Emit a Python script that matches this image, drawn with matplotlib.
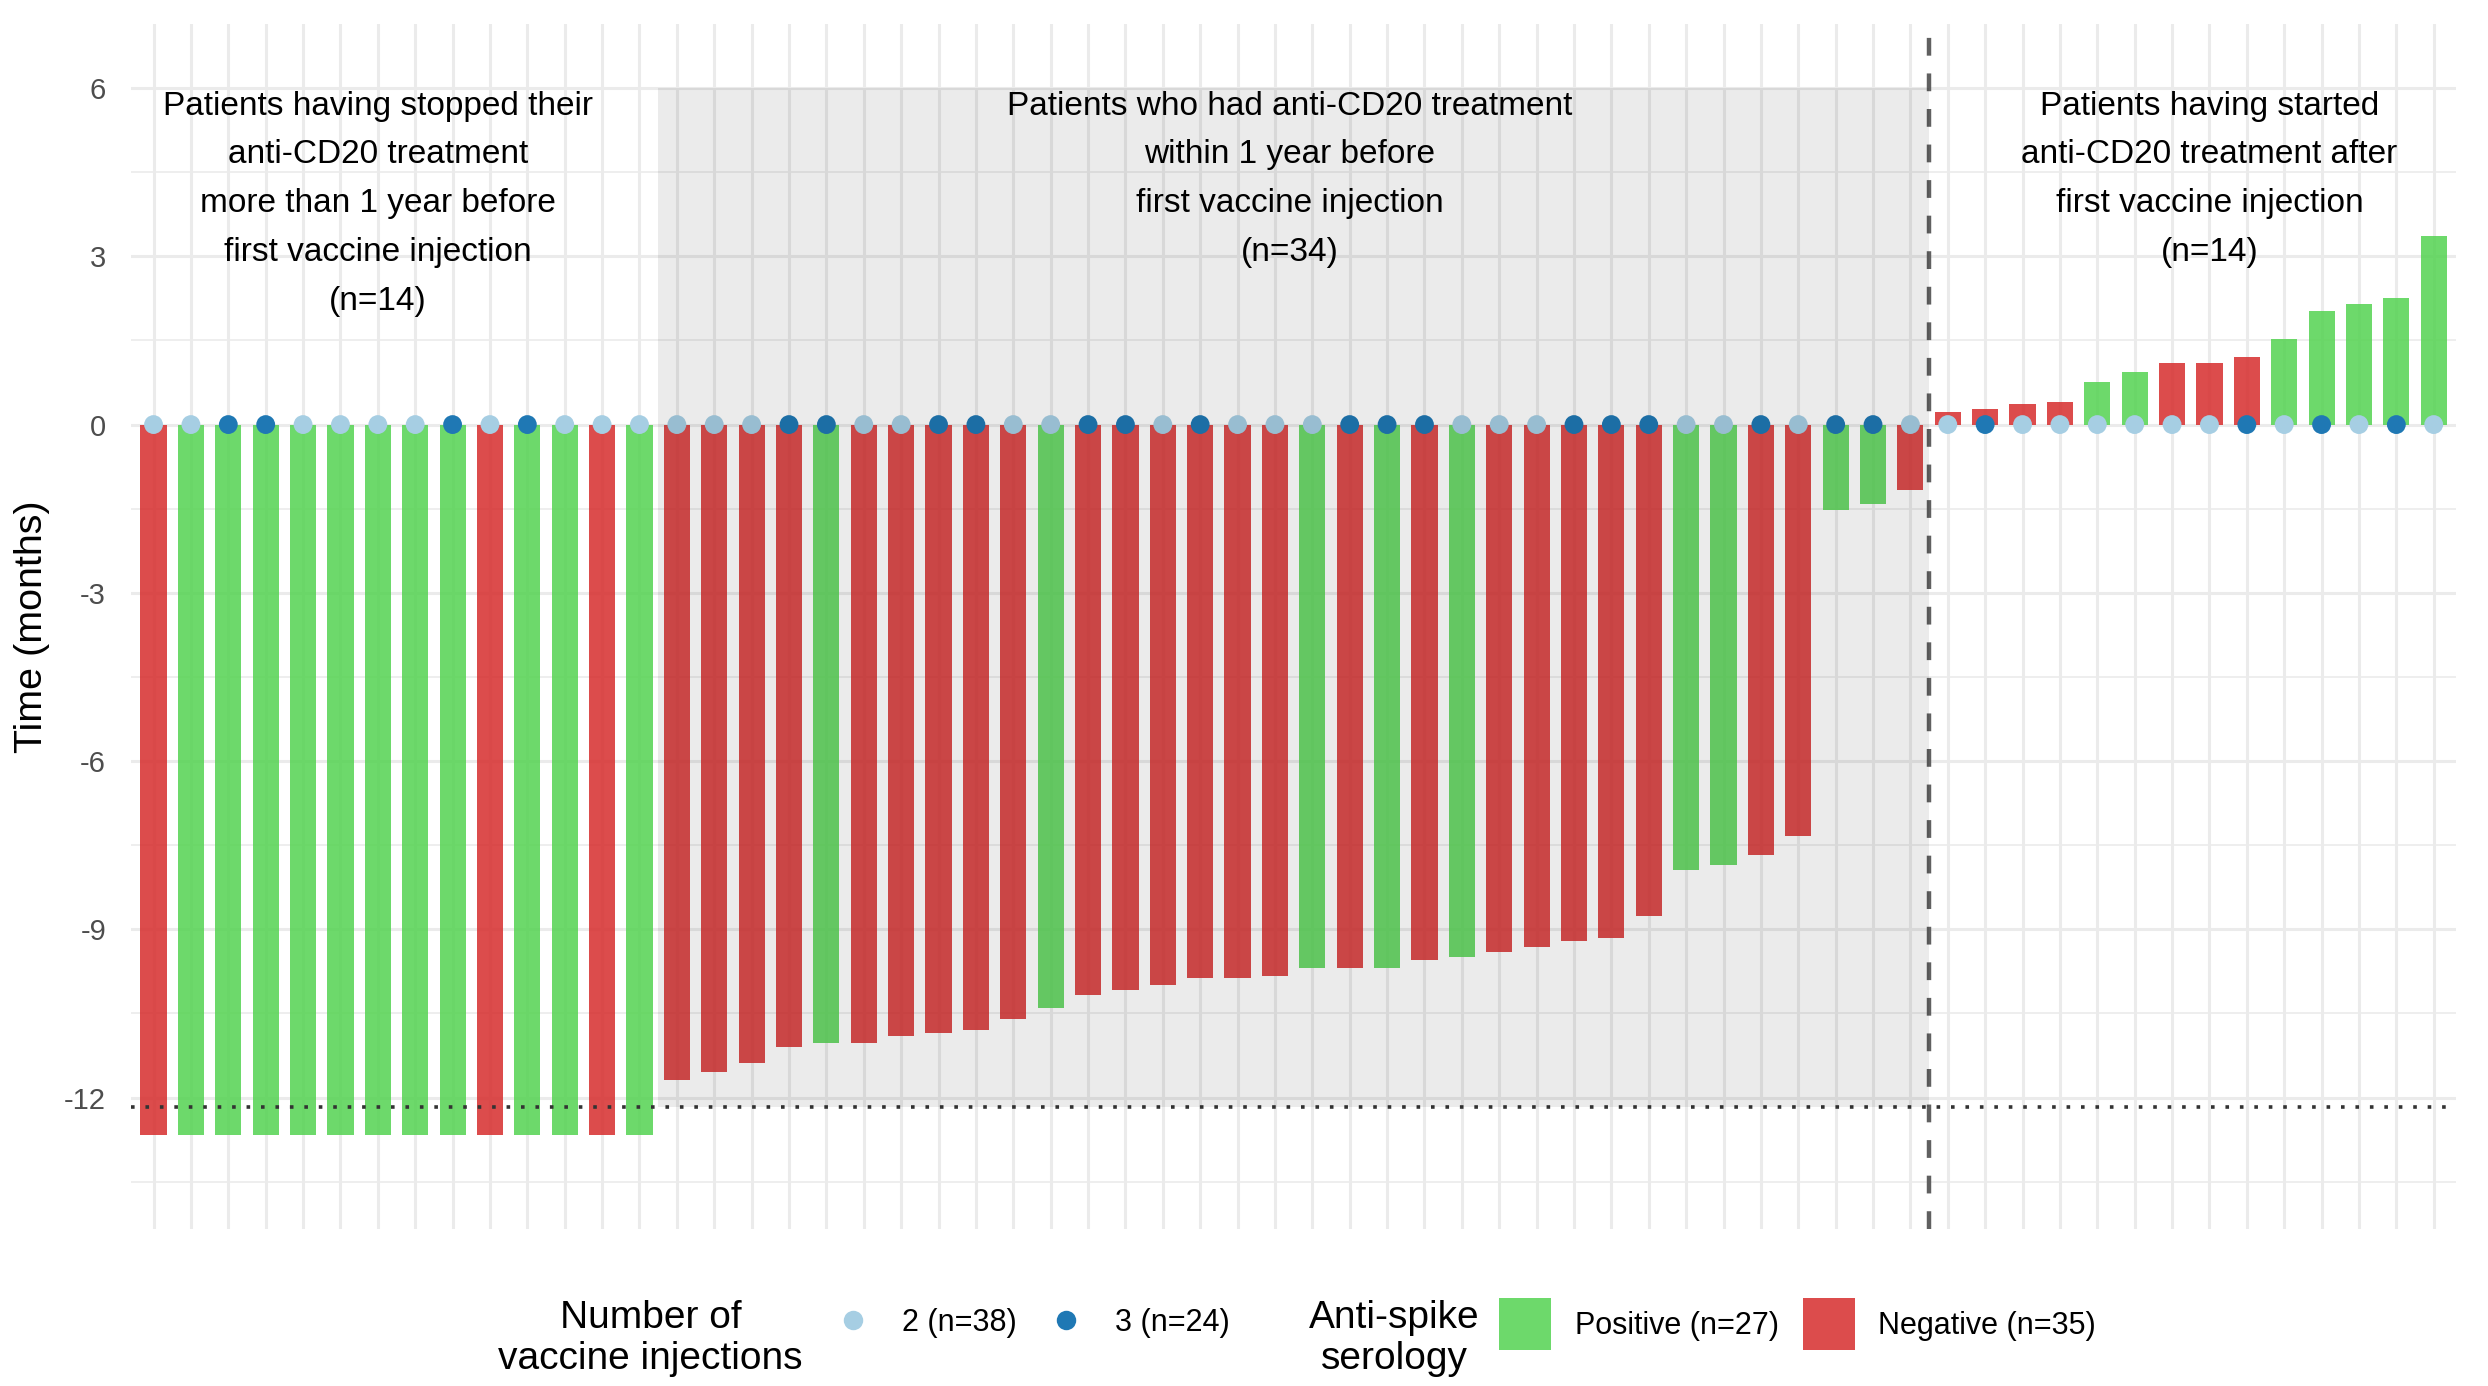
import numpy as np
import matplotlib.pyplot as plt
from matplotlib.patches import Rectangle, Patch
from matplotlib.lines import Line2D

plt.rcParams['font.family'] = ['Liberation Sans', 'DejaVu Sans']
plt.rcParams['axes.unicode_minus'] = False

# ——— data (one entry per patient, sorted as in the figure) ———
# time from anti-CD20 treatment to first vaccine injection, in months
months = [
    -12.67, -12.67, -12.67, -12.67, -12.67, -12.67, -12.67,
    -12.67, -12.67, -12.67, -12.67, -12.67, -12.67, -12.67,
    -11.69, -11.55, -11.38, -11.10, -11.02, -11.02, -10.90, -10.85, -10.79, -10.59,
    -10.40, -10.17, -10.08, -10.00, -9.86, -9.86, -9.83, -9.69, -9.69, -9.69,
    -9.55, -9.49, -9.41, -9.32, -9.21, -9.15, -8.76, -7.94, -7.85, -7.68,
    -7.34, -1.53, -1.41, -1.16,
    0.23, 0.28, 0.37, 0.40, 0.76, 0.93, 1.10, 1.10, 1.21, 1.53, 2.03, 2.15, 2.26, 3.36,
]
# anti-spike serology: P = positive, N = negative
serology = list("NPPPPPPPPNPPNP"
                "NNNNPNNNNNPNNNNNNPNPNPNNNNNPPNNPPN"
                "NNNNPPNNNPPPPP")
# number of vaccine injections
injections = [
    2, 2, 3, 3, 2, 2, 2, 2, 3, 2, 3, 2, 2, 2,
    2, 2, 2, 3, 3, 2, 2, 3, 3, 2, 2, 3, 3, 2, 3, 2, 2, 2, 3, 3, 3, 2, 2, 2,
    3, 3, 3, 2, 2, 3, 2, 3, 3, 2,
    2, 3, 2, 2, 2, 2, 2, 2, 3, 2, 3, 2, 3, 2,
]
group_sizes = [14, 34, 14]
group_text_x = [7, 31.4, 56]
group_texts = [
    ["Patients having stopped their", "anti-CD20 treatment", "more than 1 year before",
     "first vaccine injection", "(n=14)"],
    ["Patients who had anti-CD20 treatment", "within 1 year before",
     "first vaccine injection", "(n=34)"],
    ["Patients having started", "anti-CD20 treatment after",
     "first vaccine injection", "(n=14)"],
]
one_year = -12.17  # 365 days

sero_colors = {'P': '#54D351', 'N': '#D62C2C'}
inj_colors = {2: '#A6CEE3', 3: '#1F78B4'}

n = len(months)
x = np.arange(1, n + 1)

fig = plt.figure(figsize=(12.44, 6.93), dpi=200)
ax = fig.add_axes([0.0527, 0.113, 0.9345, 0.870])

# grid (ggplot minimal-like)
ax.set_xlim(0.4, n + 0.6)
ax.set_ylim(-14.35, 7.15)
ax.set_yticks([-12, -9, -6, -3, 0, 3, 6])
ax.set_yticks(np.arange(-13.5, 6, 3), minor=True)
ax.set_xticks(x)
ax.grid(which='major', axis='both', color='#EBEBEB', lw=1.1, zorder=0)
ax.grid(which='minor', axis='y', color='#EBEBEB', lw=0.6, zorder=0)
ax.tick_params(axis='x', length=0, labelbottom=False)
ax.tick_params(axis='y', which='both', length=0, labelsize=10.5, labelcolor='#4D4D4D', pad=9)
for s in ax.spines.values():
    s.set_visible(False)
ax.set_axisbelow(True)

ax.bar(x, months, width=0.7, color=[sero_colors[s] for s in serology],
       alpha=0.85, zorder=2, linewidth=0)
ax.scatter(x, np.zeros(n), s=46, c=[inj_colors[i] for i in injections],
           edgecolors='none', zorder=3)

# reference lines
ax.axhline(one_year, color='#333333', lw=1.3, ls=(0, (1, 3)), zorder=4)
split = group_sizes[0] + group_sizes[1] + 0.5
ax.axvline(split, color='#606060', lw=1.6, ls=(0, (4, 4)), zorder=4)

# shaded middle group (drawn on top, as in the original)
x0 = group_sizes[0] + 0.5
ax.add_patch(Rectangle((x0, one_year), group_sizes[1], 6 - one_year,
                       facecolor='black', alpha=0.08, edgecolor='none', zorder=5))

# group labels
for cx, lines in zip(group_text_x, group_texts):
    for k, line in enumerate(lines):
        ax.text(cx, 5.68 - k * 0.87, line, ha='center', va='center',
                fontsize=12, color='black', zorder=6)

ax.set_ylabel('Time (months)', fontsize=14.2, labelpad=5)

# legends
h_inj = [Line2D([], [], marker='o', ls='', markersize=7, markerfacecolor=inj_colors[k],
                markeredgecolor='none') for k in (2, 3)]
l_inj = [f'{k} (n={injections.count(k)})' for k in (2, 3)]
fig.legend(h_inj, l_inj, loc='center left', bbox_to_anchor=(0.3368, 0.0455), ncol=2,
           frameon=False, fontsize=11, handlelength=1.0, handletextpad=1.08,
           columnspacing=1.14, borderpad=0, borderaxespad=0)

h_ser = [Patch(facecolor=sero_colors[k], alpha=0.85, edgecolor='none') for k in ('P', 'N')]
l_ser = [f'Positive (n={serology.count("P")})', f'Negative (n={serology.count("N")})']
fig.legend(h_ser, l_ser, loc='center left', bbox_to_anchor=(0.6025, 0.0445), ncol=2,
           frameon=False, fontsize=11, handlelength=1.7, handleheight=2.24,
           handletextpad=0.78, columnspacing=0.78, borderpad=0, borderaxespad=0)

fig.text(0.2615, 0.034, 'Number of\nvaccine injections', ha='center', va='center',
         fontsize=14, linespacing=1.17)
fig.text(0.5605, 0.034, 'Anti-spike\nserology', ha='center', va='center',
         fontsize=14, linespacing=1.17)

fig.savefig('out.png', dpi=200)
